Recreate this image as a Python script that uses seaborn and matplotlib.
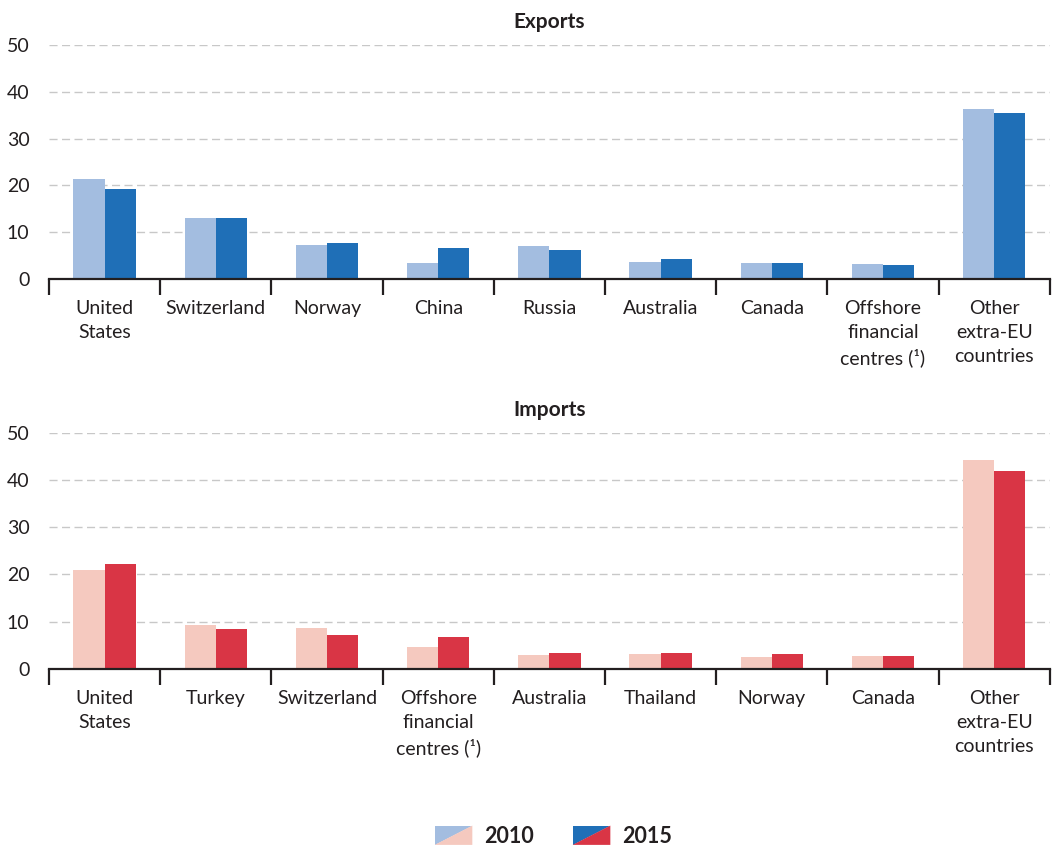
import matplotlib
matplotlib.use("Agg")
import matplotlib.pyplot as plt
from matplotlib.legend_handler import HandlerBase
from matplotlib.patches import Polygon
import numpy as np
import pandas as pd
import seaborn as sns

# Shares of extra-EU trade by partner (%)
export_partners = ["United\nStates", "Switzerland", "Norway", "China", "Russia",
                   "Australia", "Canada", "Offshore\nfinancial\ncentres (\u00b9)",
                   "Other\nextra-EU\ncountries"]
exports_2010 = [21.4, 13.0, 7.3, 3.4, 7.0, 3.6, 3.4, 3.3, 36.3]
exports_2015 = [19.2, 13.0, 7.7, 6.6, 6.1, 4.3, 3.5, 2.9, 35.5]

import_partners = ["United\nStates", "Turkey", "Switzerland",
                   "Offshore\nfinancial\ncentres (\u00b9)", "Australia", "Thailand",
                   "Norway", "Canada", "Other\nextra-EU\ncountries"]
imports_2010 = [20.9, 9.3, 8.7, 4.6, 2.9, 3.2, 2.5, 2.8, 44.2]
imports_2015 = [22.3, 8.5, 7.2, 6.8, 3.4, 3.4, 3.2, 2.7, 41.9]

years = ["2010", "2015"]

LIGHT_BLUE, BLUE = "#a3bde0", "#1f6fb7"
LIGHT_RED, RED = "#f5c9bf", "#d93545"
INK = "#231f20"
GRID = "#c8c8c8"

sns.set_style("white")
plt.rcParams["font.family"] = ["Lato", "DejaVu Sans"]
plt.rcParams["text.color"] = INK

fig = plt.figure(figsize=(10.54, 8.48), dpi=100)
ax_exp = fig.add_axes([0.0465, 0.671, 0.9495, 0.276])
ax_imp = fig.add_axes([0.0465, 0.2111, 0.9495, 0.2787])


def draw_panel(ax, partners, v2010, v2015, colors, title):
    df = pd.DataFrame({
        "partner": partners * 2,
        "year": [years[0]] * len(partners) + [years[1]] * len(partners),
        "share": v2010 + v2015,
    })
    sns.barplot(data=df, x="partner", y="share", hue="year", order=partners,
                palette=colors, width=0.56, gap=0, saturation=1,
                linewidth=0, legend=False, ax=ax)
    ax.set_xlim(-0.5, len(partners) - 0.5)
    ax.set_ylim(0, 50)
    ax.set_yticks(np.arange(0, 51, 10))
    ax.set_xlabel("")
    ax.set_ylabel("")
    ax.set_axisbelow(True)
    ax.yaxis.grid(True, color=GRID, linewidth=1.0, linestyle=(0, (5.8, 3.2)))
    ax.xaxis.grid(False)
    for side in ("left", "right", "top"):
        ax.spines[side].set_visible(False)
    ax.spines["bottom"].set_color(INK)
    ax.spines["bottom"].set_linewidth(1.6)
    ax.set_xticks(np.arange(-0.5, len(partners), 1), minor=True)
    ax.tick_params(axis="x", which="major", bottom=True, length=0, pad=15,
                   labelsize=14, labelcolor=INK)
    ax.tick_params(axis="x", which="minor", bottom=True, length=11.5, width=1.6,
                   color=INK, direction="out")
    ax.tick_params(axis="y", left=False, length=0, pad=14, labelsize=14,
                   labelcolor=INK)
    for lbl in ax.get_xticklabels():
        lbl.set_linespacing(1.5)
        lbl.set_ha("center")
    ax.set_title(title, fontsize=15, fontweight="bold", color=INK, pad=12)


draw_panel(ax_exp, export_partners, exports_2010, exports_2015,
           [LIGHT_BLUE, BLUE], "Exports")
draw_panel(ax_imp, import_partners, imports_2010, imports_2015,
           [LIGHT_RED, RED], "Imports")


class SplitSwatch:
    def __init__(self, upper, lower):
        self.upper = upper
        self.lower = lower


class SplitSwatchHandler(HandlerBase):
    def create_artists(self, legend, orig_handle, xdescent, ydescent,
                       width, height, fontsize, trans):
        x0, y0 = -xdescent, -ydescent
        upper = Polygon([[x0, y0], [x0, y0 + height], [x0 + width, y0 + height]],
                        closed=True, facecolor=orig_handle.upper,
                        edgecolor="none", transform=trans)
        lower = Polygon([[x0, y0], [x0 + width, y0 + height], [x0 + width, y0]],
                        closed=True, facecolor=orig_handle.lower,
                        edgecolor="none", transform=trans)
        return [upper, lower]


handles = [SplitSwatch(LIGHT_BLUE, LIGHT_RED), SplitSwatch(BLUE, RED)]
leg = fig.legend(handles, years, handler_map={SplitSwatch: SplitSwatchHandler()},
                 loc="center", bbox_to_anchor=(0.525, 0.014), ncol=2,
                 frameon=False, handlelength=1.75, handleheight=1.0,
                 handletextpad=0.55, columnspacing=1.8,
                 prop={"weight": "bold", "size": 15.5})
for t in leg.get_texts():
    t.set_color(INK)

fig.savefig("out.png", dpi=100)
